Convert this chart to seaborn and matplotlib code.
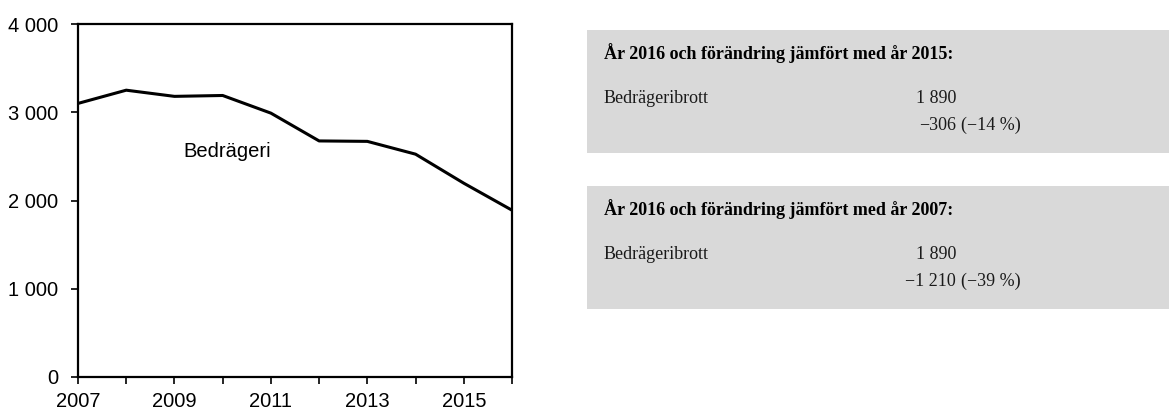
import matplotlib
matplotlib.use("Agg")
import matplotlib.pyplot as plt
import seaborn as sns
import pandas as pd
from matplotlib.ticker import FuncFormatter, MultipleLocator
from matplotlib.patches import Rectangle

years = [2007, 2008, 2009, 2010, 2011, 2012, 2013, 2014, 2015, 2016]
bedrageri = [3100, 3250, 3180, 3190, 2990, 2675, 2670, 2525, 2196, 1890]
series_label = "Bedrägeri"
x_tick_labels = [2007, 2009, 2011, 2013, 2015]

box_titles = ["År 2016 och förändring jämfört med år 2015:",
              "År 2016 och förändring jämfört med år 2007:"]
box_row_label = "Bedrägeribrott"
box_values = ["1 890", "1 890"]
box_changes = ["\u2212306", "\u22121 210"]
box_pcts = ["(\u221214 %)", "(\u221239 %)"]

sns.set_style("white")
plt.rcParams['font.family'] = ['Liberation Sans', 'DejaVu Sans']

W, H = 1169, 413
fig = plt.figure(figsize=(W / 100, H / 100), dpi=100)
ax = fig.add_axes([78 / W, 1 - 377 / H, 434 / W, 353 / H])

df = pd.DataFrame({"year": years, "value": bedrageri})
sns.lineplot(data=df, x="year", y="value", ax=ax, color="black", linewidth=2.2)

ax.set_xlim(2007, 2016)
ax.set_ylim(0, 4000)
ax.set_xticks(years)
ax.set_xticklabels([str(y) if y in x_tick_labels else "" for y in years])
ax.yaxis.set_major_locator(MultipleLocator(1000))
ax.yaxis.set_major_formatter(FuncFormatter(lambda v, p: f"{int(v):,}".replace(",", " ")))
ax.tick_params(axis="both", which="major", direction="out", length=5, width=1.2,
               color="black", labelsize=14.5, labelcolor="black",
               bottom=True, left=True)
ax.tick_params(axis="x", pad=6)
ax.tick_params(axis="y", pad=9)
ax.set_xlabel("")
ax.set_ylabel("")
for s in ax.spines.values():
    s.set_color("black")
    s.set_linewidth(1.6)
ax.text(2010.1, 2560, series_label, fontsize=14.5, ha="center", va="center", color="black")

# Info boxes
serif = ['Liberation Serif', 'DejaVu Serif']
fs = 13
boxes_px = [(587, 30, 153), (587, 186, 309)]
for i, (x0, ytop, ybot) in enumerate(boxes_px):
    fig.patches.append(Rectangle((x0 / W, 1 - ybot / H), (W - x0) / W, (ybot - ytop) / H,
                                 transform=fig.transFigure, facecolor="#d9d9d9",
                                 edgecolor="none", zorder=0))
    fig.text(604 / W, 1 - (ytop + 29) / H, box_titles[i], fontsize=fs, fontweight="bold",
             family=serif, va="baseline", ha="left", color="black")
    fig.text(604 / W, 1 - (ytop + 73) / H, box_row_label, fontsize=fs,
             family=serif, va="baseline", ha="left", color="#1a1a1a")
    fig.text(956 / W, 1 - (ytop + 73) / H, box_values[i], fontsize=fs,
             family=serif, va="baseline", ha="right", color="#1a1a1a")
    fig.text(956 / W, 1 - (ytop + 100) / H, box_changes[i], fontsize=fs,
             family=serif, va="baseline", ha="right", color="#1a1a1a")
    fig.text(961 / W, 1 - (ytop + 100) / H, box_pcts[i], fontsize=fs,
             family=serif, va="baseline", ha="left", color="#1a1a1a")

fig.savefig("out.png", dpi=100)
